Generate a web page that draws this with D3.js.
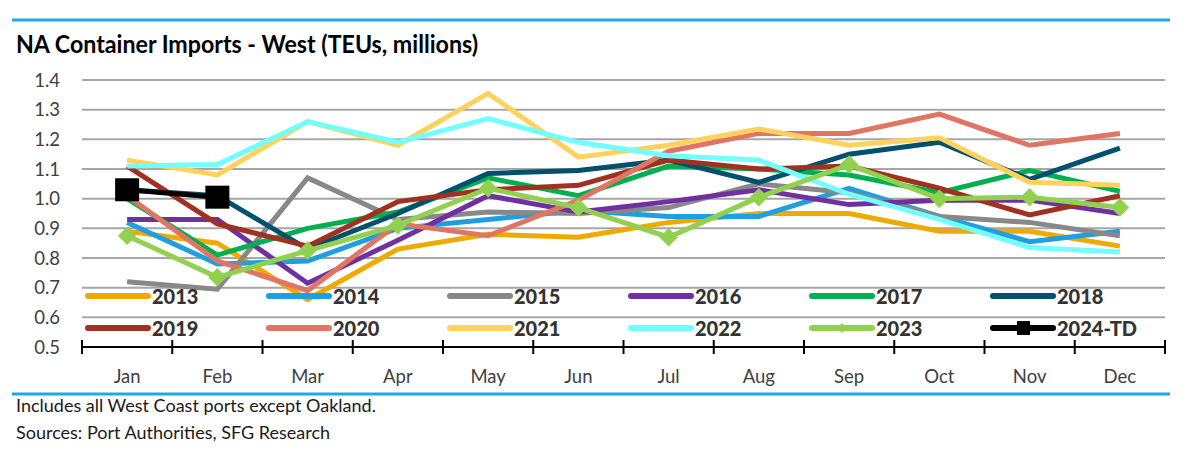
<!DOCTYPE html>
<html lang="en">
<head>
<meta charset="UTF-8">
<title>NA Container Imports - West</title>
<script src="https://d3js.org/d3.v7.min.js"></script>
<style>
    body { margin: 0; background: #fff; font-family: Lato, "Open Sans", sans-serif; }
    svg { display: block; }
    .grid line { stroke: #a6a6a6; stroke-width: 2px; }
    .ylab, .xlab { fill: #404040; font-size: 18.5px; }
    .leg text { fill: #333; font-size: 20px; font-weight: 900; }
    .note { fill: #1a1a1a; font-size: 18px; }
</style>
</head>
<body>
<svg id="chart" width="1200" height="460"></svg>
<script>
    const months = ['Jan', 'Feb', 'Mar', 'Apr', 'May', 'Jun', 'Jul', 'Aug', 'Sep', 'Oct', 'Nov', 'Dec'];
    const yTicks = [0.5, 0.6, 0.7, 0.8, 0.9, 1.0, 1.1, 1.2, 1.3, 1.4];

    // TEUs, millions
    const y2013 = [0.89, 0.85, 0.66, 0.83, 0.88, 0.87, 0.92, 0.95, 0.95, 0.89, 0.89, 0.84];
    const y2014 = [0.92, 0.78, 0.79, 0.90, 0.93, 0.96, 0.94, 0.94, 1.035, 0.94, 0.855, 0.89];
    const y2015 = [0.72, 0.695, 1.07, 0.93, 0.955, 0.95, 0.97, 1.05, 1.02, 0.94, 0.92, 0.875];
    const y2016 = [0.93, 0.93, 0.715, 0.86, 1.01, 0.955, 0.99, 1.03, 0.98, 0.995, 0.995, 0.95];
    const y2017 = [1.0, 0.81, 0.90, 0.955, 1.07, 1.01, 1.11, 1.10, 1.08, 1.02, 1.095, 1.025];
    const y2018 = [1.03, 1.01, 0.83, 0.95, 1.085, 1.095, 1.13, 1.055, 1.15, 1.19, 1.065, 1.17];
    const y2019 = [1.11, 0.915, 0.84, 0.99, 1.03, 1.045, 1.13, 1.10, 1.11, 1.035, 0.945, 1.01];
    const y2020 = [1.01, 0.79, 0.69, 0.915, 0.875, 0.995, 1.16, 1.22, 1.22, 1.285, 1.18, 1.22];
    const y2021 = [1.13, 1.08, 1.26, 1.18, 1.355, 1.14, 1.18, 1.235, 1.18, 1.205, 1.055, 1.045];
    const y2022 = [1.11, 1.115, 1.26, 1.19, 1.27, 1.19, 1.145, 1.13, 1.015, 0.93, 0.835, 0.82];
    const y2023 = [0.875, 0.735, 0.825, 0.91, 1.035, 0.97, 0.87, 1.005, 1.115, 1.0, 1.005, 0.97];
    const y2024 = [1.03, 1.005];

    const seriesNames = ['2013', '2014', '2015', '2016', '2017', '2018', '2019', '2020', '2021', '2022', '2023', '2024-TD'];
    const seriesValues = [y2013, y2014, y2015, y2016, y2017, y2018, y2019, y2020, y2021, y2022, y2023, y2024];
    const seriesColors = ['#eeaa00', '#1e9fe0', '#888888', '#7030a0', '#00b050', '#00506e',
                          '#a0301f', '#e07563', '#ffd25e', '#72ffff', '#92d050', '#000000'];
    const seriesMarkers = [null, null, null, null, null, null, null, null, null, null, 'diamond', 'square'];

    const svg = d3.select('#chart');
    const plotLeft = 82, plotRight = 1165, plotTop = 80, plotBottom = 347;

    const x = d3.scaleBand().domain(months).range([plotLeft, plotRight]);
    const y = d3.scaleLinear().domain([0.5, 1.4]).range([plotBottom, plotTop]);

    // blue rules
    svg.append('line').attr('x1', 12).attr('x2', 1170).attr('y1', 20).attr('y2', 20)
        .attr('stroke', '#22a7e6').attr('stroke-width', 3);
    svg.append('line').attr('x1', 12).attr('x2', 1170).attr('y1', 394).attr('y2', 394)
        .attr('stroke', '#22a7e6').attr('stroke-width', 3);

    // title, squeezed to the reference width
    const title = svg.append('text').attr('x', 16).attr('y', 53)
        .attr('font-size', 25).attr('font-weight', 'bold').attr('fill', '#000')
        .text('NA Container Imports - West (TEUs, millions)');
    title.attr('textLength', 462).attr('lengthAdjust', 'spacingAndGlyphs');

    // gridlines
    svg.append('g').attr('class', 'grid')
        .selectAll('line')
        .data(yTicks.filter(d => d > 0.5))
        .enter().append('line')
        .attr('x1', plotLeft).attr('x2', plotRight)
        .attr('y1', d => y(d)).attr('y2', d => y(d));

    // y labels
    svg.append('g').selectAll('text')
        .data(yTicks)
        .enter().append('text')
        .attr('class', 'ylab')
        .attr('x', 60).attr('y', d => y(d) + 6.5)
        .attr('text-anchor', 'end')
        .text(d => d.toFixed(1));

    // x axis: black line with category ticks crossing it
    const xAxis = svg.append('g');
    xAxis.append('line').attr('x1', plotLeft).attr('x2', plotRight)
        .attr('y1', y(0.5)).attr('y2', y(0.5))
        .attr('stroke', '#000').attr('stroke-width', 2);
    const bounds = months.map(m => x(m)).concat([plotRight]);
    xAxis.selectAll('.tick')
        .data(bounds)
        .enter().append('line')
        .attr('x1', d => d).attr('x2', d => d)
        .attr('y1', y(0.5) - 7).attr('y2', y(0.5) + 7)
        .attr('stroke', '#000').attr('stroke-width', 2);
    xAxis.selectAll('text')
        .data(months)
        .enter().append('text')
        .attr('class', 'xlab')
        .attr('x', d => x(d) + x.bandwidth() / 2)
        .attr('y', 383)
        .attr('text-anchor', 'middle')
        .text(d => d);

    // series lines
    const line = d3.line()
        .x((d, i) => x(months[i]) + x.bandwidth() / 2)
        .y(d => y(d));

    const series = svg.append('g');
    seriesValues.forEach((vals, s) => {
        const g = series.append('g');
        g.append('path')
            .datum(vals)
            .attr('d', line)
            .attr('fill', 'none')
            .attr('stroke', seriesColors[s])
            .attr('stroke-width', 5)
            .attr('stroke-linejoin', 'miter');
        if (seriesMarkers[s] === 'diamond') {
            g.selectAll('path.mk')
                .data(vals)
                .enter().append('path')
                .attr('class', 'mk')
                .attr('d', d3.symbol(d3.symbolSquare, 170))
                .attr('transform', (d, i) => `translate(${x(months[i]) + x.bandwidth() / 2},${y(d)}) rotate(45)`)
                .attr('fill', seriesColors[s]);
        } else if (seriesMarkers[s] === 'square') {
            g.selectAll('rect')
                .data(vals)
                .enter().append('rect')
                .attr('x', (d, i) => x(months[i]) + x.bandwidth() / 2 - 12)
                .attr('y', d => y(d) - 11.5)
                .attr('width', 24).attr('height', 23)
                .attr('fill', seriesColors[s]);
        }
    });

    // legend, 6 columns x 2 rows, drawn over the lines
    const legend = svg.append('g').attr('class', 'leg');
    seriesNames.forEach((name, s) => {
        const col = s % 6, row = Math.floor(s / 6);
        const lx = 88 + col * 181, ly = 296 + row * 32;
        const g = legend.append('g');
        g.append('line')
            .attr('x1', lx).attr('x2', lx + 60)
            .attr('y1', ly).attr('y2', ly)
            .attr('stroke', seriesColors[s])
            .attr('stroke-width', 6)
            .attr('stroke-linecap', 'round');
        if (seriesMarkers[s] === 'diamond') {
            g.append('path')
                .attr('d', d3.symbol(d3.symbolSquare, 50))
                .attr('transform', `translate(${lx + 30},${ly}) rotate(45)`)
                .attr('fill', seriesColors[s]);
        } else if (seriesMarkers[s] === 'square') {
            g.append('rect')
                .attr('x', lx + 24).attr('y', ly - 7)
                .attr('width', 13).attr('height', 14)
                .attr('fill', seriesColors[s]);
        }
        g.append('text')
            .attr('x', lx + 64).attr('y', ly + 7.5)
            .text(name);
    });

    // notes
    svg.append('text').attr('class', 'note').attr('x', 16).attr('y', 412)
        .text('Includes all West Coast ports except Oakland.');
    svg.append('text').attr('class', 'note').attr('x', 16).attr('y', 439)
        .text('Sources: Port Authorities, SFG Research');
</script>
</body>
</html>
